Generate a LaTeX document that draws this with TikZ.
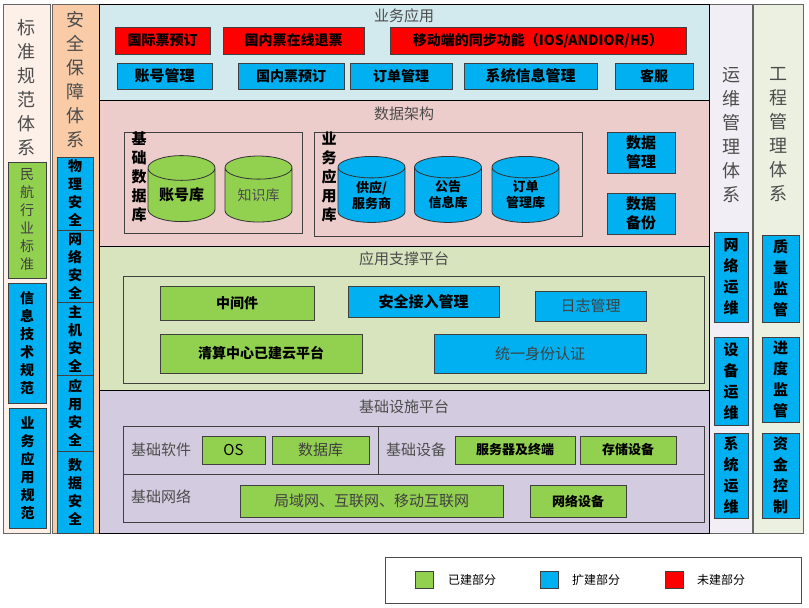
\documentclass[tikz,border=0pt]{standalone}
\usepackage{fontspec}
\setmainfont{Noto Sans CJK SC}
\usetikzlibrary{shapes.geometric}
\definecolor{gr}{HTML}{92D050}
\definecolor{bl}{HTML}{00B0F0}
\definecolor{rd}{HTML}{FF0000}
\definecolor{L1}{HTML}{D2E9EE}
\definecolor{L2}{HTML}{EDCDCB}
\definecolor{L3}{HTML}{D7E4BD}
\definecolor{L4}{HTML}{D3CCE0}
\definecolor{C1}{HTML}{FDF0E8}
\definecolor{C2}{HTML}{F9CBA7}
\definecolor{C3}{HTML}{F1EFF5}
\definecolor{C4}{HTML}{ECF0E1}
\tikzset{
 bx/.style={draw=black!75,line width=0.8pt,inner sep=0pt,align=center,font=\fontsize{14}{15}\selectfont\bfseries},
 g/.style={bx,fill=gr}, b/.style={bx,fill=bl}, r/.style={bx,fill=rd},
 ttl/.style={font=\fontsize{15}{16}\selectfont,text=black!70},
 vt/.style={align=center,font=\fontsize{18}{24}\selectfont,text=black!70},
 vb/.style={align=center,font=\fontsize{14}{18}\selectfont\bfseries},
 cyl/.style={cylinder,shape border rotate=90,draw=black!80,line width=0.8pt,aspect=0.55,minimum width=67pt,minimum height=66pt,inner sep=0pt,align=center,font=\fontsize{14}{16}\selectfont},
}
\newcommand{\rbox}[5]{\node[#1,minimum width={#4-#2},minimum height={#5-#3}] at ({(#2+#4)/2},{(#3+#5)/2})}
\begin{document}
\begin{tikzpicture}[x=1pt,y=-1pt]
\useasboundingbox[fill=white] (0,0) rectangle (809,608);
% side columns
\draw[fill=C1,draw=black!60] (3,4) rectangle (50,533);
\node[vt] (c1) at (26.5,88) {标\\准\\规\\范\\体\\系};
\draw[fill=C2,draw=black!60] (52,4) rectangle (99,533);
\node[vt] (c2) at (75.5,80) {安\\全\\保\\障\\体\\系};
\rbox{g,vb,font=\fontsize{14}{18}\selectfont,text=black!75}{8}{162}{46}{278} (s1) {民\\航\\行\\业\\标\\准};
\rbox{b,vb}{8}{283}{46}{403} (s2) {信\\息\\技\\术\\规\\范};
\rbox{b,vb}{9}{408}{46}{528} (s3) {业\\务\\应\\用\\规\\范};
\rbox{b,vb}{57}{157}{93}{230} (a1) {物\\理\\安\\全};
\rbox{b,vb}{57}{230}{93}{302} (a2) {网\\络\\安\\全};
\rbox{b,vb}{57}{302}{93}{375} (a3) {主\\机\\安\\全};
\rbox{b,vb}{57}{375}{93}{451} (a4) {应\\用\\安\\全};
\rbox{b,vb}{57}{451}{93}{533} (a5) {数\\据\\安\\全};
\draw[fill=C3,draw=black!60] (709,4) rectangle (752,533);
\node[vt] (c3) at (731,135) {运\\维\\管\\理\\体\\系};
\draw[fill=C4,draw=black!60] (753,4) rectangle (803,533);
\node[vt] (c4) at (778,135) {工\\程\\管\\理\\体\\系};
\rbox{b,vb,font=\fontsize{15}{21}\selectfont\bfseries}{714}{232}{748}{322} (o1) {网\\络\\运\\维};
\rbox{b,vb,font=\fontsize{15}{21}\selectfont\bfseries}{714}{337}{748}{425} (o2) {设\\备\\运\\维};
\rbox{b,vb,font=\fontsize{15}{21}\selectfont\bfseries}{714}{433}{748}{518} (o3) {系\\统\\运\\维};
\rbox{b,vb,font=\fontsize{15}{21}\selectfont\bfseries}{762}{235}{799}{322} (e1) {质\\量\\监\\管};
\rbox{b,vb,font=\fontsize{15}{21}\selectfont\bfseries}{762}{337}{799}{422} (e2) {进\\度\\监\\管};
\rbox{b,vb,font=\fontsize{15}{21}\selectfont\bfseries}{762}{433}{799}{518} (e3) {资\\金\\控\\制};
% layer 1
\draw[fill=L1,draw=black] (99,4) rectangle (709,100);
\node[ttl] (t1) at (404,16) {业务应用};
\rbox{r}{115}{27}{210}{54} (r1) {国际票预订};
\rbox{r}{223}{27}{364}{54} (r2) {国内票在线退票};
\rbox{r}{390}{27}{686}{54} (r3) {移动端的同步功能（IOS/ANDIOR/H5）};
\rbox{b,font=\fontsize{15}{15}\selectfont\bfseries}{117}{63}{212}{89} (b1) {账号管理};
\rbox{b}{238}{63}{344}{89} (b2) {国内票预订};
\rbox{b}{350}{63}{452}{89} (b3) {订单管理};
\rbox{b,font=\fontsize{15}{15}\selectfont\bfseries}{464}{63}{597}{89} (b4) {系统信息管理};
\rbox{b}{615}{63}{693}{89} (b5) {客服};
% layer 2
\draw[fill=L2,draw=black] (99,100) rectangle (709,246);
\node[ttl] (t2) at (404,114) {数据架构};
\draw[draw=black!75] (124,132) rectangle (302,233);
\node[vb,font=\fontsize{15}{19}\selectfont\bfseries,anchor=north] (l1) at (139,128) {基\\础\\数\\据\\库};
\draw[draw=black!75] (314,132) rectangle (582,236);
\node[vb,font=\fontsize{15}{19}\selectfont\bfseries,anchor=north] (l2) at (329,128) {业\\务\\应\\用\\库};
\node[cyl,fill=gr,font=\fontsize{15}{16}\selectfont\bfseries] (k1) at (181.5,195) {账号库};
\node[cyl,fill=gr,text=black!70] (k2) at (258.5,195) {知识库};
\node[cyl,fill=bl,font=\fontsize{13}{16}\selectfont\bfseries] (k3) at (371.5,195) {供应/\\服务商};
\node[cyl,fill=bl,font=\fontsize{13}{16}\selectfont\bfseries] (k4) at (448,195) {公告\\信息库};
\node[cyl,fill=bl,font=\fontsize{13}{16}\selectfont\bfseries] (k5) at (525.5,195) {订单\\管理库};
\rbox{b,font=\fontsize{15}{19}\selectfont\bfseries}{607}{132}{675}{173} (d1) {数据\\管理};
\rbox{b,font=\fontsize{15}{19}\selectfont\bfseries}{607}{193}{675}{234} (d2) {数据\\备份};
% layer 3
\draw[fill=L3,draw=black] (99,246) rectangle (709,390);
\node[ttl] (t3) at (404,259) {应用支撑平台};
\draw[draw=black!75] (123,276) rectangle (704,383);
\rbox{g}{160}{286}{314}{320} (m1) {中间件};
\rbox{b,font=\fontsize{15}{15}\selectfont\bfseries}{348}{286}{499}{317} (m2) {安全接入管理};
\rbox{b,font=\fontsize{15}{15}\selectfont,text=black!75}{535}{291}{646}{321} (m3) {日志管理};
\rbox{g}{160}{334}{362}{373} (m4) {清算中心已建云平台};
\rbox{b,font=\fontsize{15}{15}\selectfont,text=black!75}{434}{334}{646}{373} (m5) {统一身份认证};
% layer 4
\draw[fill=L4,draw=black] (99,390) rectangle (709,533);
\node[ttl] (t4) at (404,407) {基础设施平台};
\draw[draw=black!75] (123,426) rectangle (704,522);
\draw[draw=black!75] (123,474) -- (704,474);
\draw[draw=black!75] (378,426) -- (378,474);
\node[ttl] (f1) at (161,450) {基础软件};
\node[ttl] (f2) at (416,450) {基础设备};
\node[ttl] (f3) at (161,497) {基础网络};
\rbox{g,font=\fontsize{15}{15}\selectfont}{202}{436}{265}{464} (i1) {OS};
\rbox{g,font=\fontsize{15}{15}\selectfont,text=black!75}{272}{436}{369}{464} (i2) {数据库};
\rbox{g,font=\fontsize{13}{13}\selectfont\bfseries}{455}{436}{575}{464} (i3) {服务器及终端};
\rbox{g,font=\fontsize{13}{13}\selectfont\bfseries}{580}{436}{676}{464} (i4) {存储设备};
\rbox{g,font=\fontsize{15}{15}\selectfont,text=black!75}{240}{485}{503}{517} (i5) {局域网、互联网、移动互联网};
\rbox{g,font=\fontsize{13}{13}\selectfont\bfseries}{530}{485}{626}{517} (i6) {网络设备};
% legend
\draw[draw=black!70] (385,557) rectangle (801,603);
\rbox{g}{415}{571}{433}{588} (lg1) {};
\node[font=\fontsize{12}{12}\selectfont] (lt1) at (472,580) {已建部分};
\rbox{b}{540}{571}{558}{588} (lg2) {};
\node[font=\fontsize{12}{12}\selectfont] (lt2) at (596,580) {扩建部分};
\rbox{r}{665}{571}{683}{588} (lg3) {};
\node[font=\fontsize{12}{12}\selectfont] (lt3) at (721,580) {未建部分};
\end{tikzpicture}
\end{document}
